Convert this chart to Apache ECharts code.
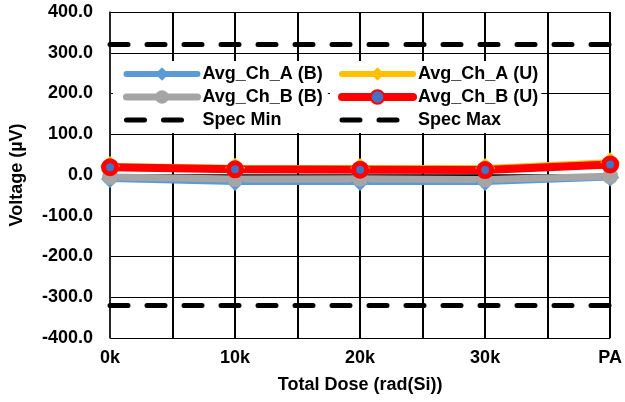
<!DOCTYPE html>
<html>
<head>
<meta charset="utf-8">
<title>Voltage vs Total Dose</title>
<script src="https://cdn.jsdelivr.net/npm/echarts@6/dist/echarts.min.js"></script>
<style>
    html, body {margin: 0; padding: 0; background: #fff;}
    #my-chart {width: 625px; height: 402px;}
</style>
</head>
<body>
<div id="my-chart"></div>
<script>
// x 轴标签及位置
var doses = ['0k', '10k', '20k', '30k', 'PA'];
var dosePos = [0, 10, 20, 30, 40];

// 各通道平均值 (µV)
var avgChA_B = [-10, -17, -17, -17, -6];
var avgChB_B = [-5, -10, -9, -11, -3];
var avgChA_U = [22, 18, 17, 17, 31];
var avgChB_U = [19, 14, 13, 12, 26];
var specMin = -320;
var specMax = 320;

var font = "'Liberation Sans', Arial, sans-serif";

function pairs(values){
    return values.map(function (v, i) {
        return [dosePos[i], v];
    });
}

function specLine(v){
    return [[dosePos[0], v], [dosePos[dosePos.length - 1], v]];
}

var myChart = echarts.init(document.getElementById("my-chart"));

var boldText = {fontFamily: font, fontWeight: 'bold', fontSize: 18, color: '#000'};

// 图例公共设置
function legendBase(left, padding, names){
    return {
        orient: 'vertical',
        left: left,
        top: 61,
        padding: padding,
        backgroundColor: '#fff',
        itemWidth: 71,
        itemHeight: 17,
        itemGap: 5,
        textStyle: boldText,
        lineStyle: {width: 'inherit', type: 'inherit', cap: 'round'},
        data: names.map(function (n) {
            // 规格线在图例中不显示圆点
            if (n.indexOf('Spec') === 0) {
                return {name: n, itemStyle: {opacity: 0}};
            }
            return {name: n};
        })
    };
}

var option = {
    animation: false,
    backgroundColor: '#fff',
    grid: {left: 110, right: 13, top: 12, bottom: 64},
    legend: [
        legendBase(113, [4, 5, 4, 10], ['Avg_Ch_A (B)', 'Avg_Ch_B (B)', 'Spec Min']),
        legendBase(330, [4, 3, 4, 8], ['Avg_Ch_A (U)', 'Avg_Ch_B (U)', 'Spec Max'])
    ],
    xAxis: {
        type: 'value',
        min: 0,
        max: 40,
        interval: 5,
        name: 'Total Dose (rad(Si))',
        nameLocation: 'middle',
        nameGap: 38,
        nameTextStyle: boldText,
        axisLine: {lineStyle: {color: '#000', width: 1.5}},
        axisTick: {show: false},
        axisLabel: {
            margin: 11,
            fontFamily: font, fontWeight: 'bold', fontSize: 18, color: '#000',
            formatter: function (v) {
                var i = dosePos.indexOf(v);
                return i >= 0 ? doses[i] : '';
            }
        },
        splitLine: {show: true, lineStyle: {color: '#000', width: 2}}
    },
    yAxis: {
        type: 'value',
        min: -400,
        max: 400,
        interval: 100,
        name: 'Voltage (µV)',
        nameLocation: 'middle',
        nameGap: 84,
        nameTextStyle: boldText,
        axisLine: {show: true, lineStyle: {color: '#333', width: 1.5}},
        axisTick: {show: false},
        axisLabel: {
            margin: 17,
            fontFamily: font, fontWeight: 'bold', fontSize: 18, color: '#000',
            formatter: function (v) { return v.toFixed(1); }
        },
        splitLine: {show: true, lineStyle: {color: '#000', width: 1}}
    },
    series: [
        {
            name: 'Spec Min', type: 'line', data: specLine(specMin),
            symbol: 'none', z: 1,
            lineStyle: {color: '#000', width: 5, type: [18, 19], cap: 'round'},
            itemStyle: {color: '#000'}
        },
        {
            name: 'Spec Max', type: 'line', data: specLine(specMax),
            symbol: 'none', z: 1,
            lineStyle: {color: '#000', width: 5, type: [18, 19], cap: 'round'},
            itemStyle: {color: '#000'}
        },
        {
            name: 'Avg_Ch_A (B)', type: 'line', data: pairs(avgChA_B),
            symbol: 'diamond', symbolSize: 18,
            lineStyle: {color: '#5B9BD5', width: 6},
            itemStyle: {color: '#5B9BD5'}
        },
        {
            name: 'Avg_Ch_B (B)', type: 'line', data: pairs(avgChB_B),
            symbol: 'circle', symbolSize: 16,
            lineStyle: {color: '#A5A5A5', width: 7},
            itemStyle: {color: '#A5A5A5'}
        },
        {
            name: 'Avg_Ch_A (U)', type: 'line', data: pairs(avgChA_U),
            symbol: 'diamond', symbolSize: 20,
            lineStyle: {color: '#FFC000', width: 6},
            itemStyle: {color: '#FFC000'}
        },
        {
            name: 'Avg_Ch_B (U)', type: 'line', data: pairs(avgChB_U),
            symbol: 'circle', symbolSize: 13,
            lineStyle: {color: '#FF0000', width: 8},
            itemStyle: {color: '#4472C4', borderColor: '#FF0000', borderWidth: 5}
        }
    ]
};
myChart.setOption(option);
</script>
</body>
</html>
